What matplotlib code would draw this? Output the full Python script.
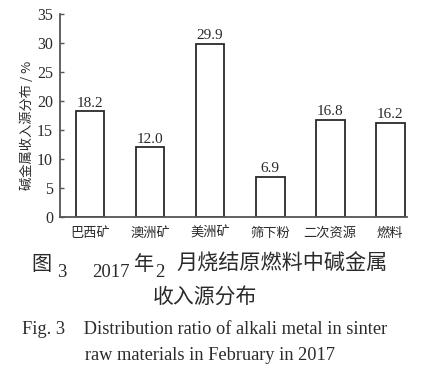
import matplotlib.pyplot as plt
import numpy as np

categories = ["巴西矿", "澳洲矿", "美洲矿", "筛下粉", "二次资源", "燃料"]
values = [18.2, 12.0, 29.9, 6.9, 16.8, 16.2]
value_labels = ["18.2", "12.0", "29.9", "6.9", "16.8", "16.2"]
y_ticks = [0, 5, 10, 15, 20, 25, 30, 35]

# caption line 1 pieces: (text, left x in px, is_cjk)
caption_parts = [("图", 31, True), ("3", 57, False), ("2017", 92, False), ("年", 134, True),
                 ("2", 155, False), ("月烧结原燃料中碱金属", 176, True)]

fonts = ['Liberation Serif', 'Noto Sans CJK SC']
cjk = ['Noto Sans CJK SC', 'Liberation Serif']
ink = '#2a2a2a'
W, H = 429, 377

fig = plt.figure(figsize=(W / 100, H / 100), dpi=100)
ax = fig.add_axes([60 / W, 1 - 217 / H, 347 / W, 203 / H])

x = np.arange(len(categories))
ax.bar(x, values, width=0.48, color='white', edgecolor=ink, linewidth=1.3)
for xi, v, lab in zip(x, values, value_labels):
    ax.text(xi, v + 0.3, lab, ha='center', va='bottom', fontsize=11, family=fonts, color=ink)

ax.set_xlim(-0.5, 5.28)
ax.set_ylim(0, 35)
ax.set_yticks(y_ticks)
ax.set_yticklabels([str(t) for t in y_ticks], family=fonts, fontsize=11.5, color=ink)
ax.set_xticks(x)
ax.set_xticklabels(categories, family=cjk, fontsize=9.5, color=ink)
ax.tick_params(axis='y', direction='in', length=3, width=1, color='#555555', pad=5)
ax.tick_params(axis='x', length=0, pad=7)
fig.text(27 / W, 1 - 125 / H, "碱金属收入源分布 / %", rotation=90, ha='center', va='center',
         family=cjk, fontsize=9.5, color=ink)

for s in ['top', 'right']:
    ax.spines[s].set_visible(False)
for s in ['left', 'bottom']:
    ax.spines[s].set_linewidth(1.3)
    ax.spines[s].set_color('#555555')

for txt, px, is_cjk in caption_parts:
    if is_cjk:
        size = 15.2 if len(txt) > 1 else 14.5
        fig.text(px / W, 1 - 270 / H, txt, ha='left', va='baseline', family=cjk, fontsize=size, color=ink)
    else:
        fig.text(px / W, 1 - 277 / H, txt, ha='left', va='baseline', family=fonts, fontsize=13.5, color=ink)
fig.text(205 / W, 1 - 298 / H, "收入源分布", ha='center', va='center', family=cjk, fontsize=15, color=ink)
fig.text(205 / W, 1 - 329 / H, "Fig. 3    Distribution ratio of alkali metal in sinter", ha='center',
         va='center', family=fonts, fontsize=13.2, color=ink)
fig.text(210 / W, 1 - 355 / H, "raw materials in February in 2017", ha='center', va='center',
         family=fonts, fontsize=13.2, color=ink)

fig.savefig("out.png", dpi=100)
